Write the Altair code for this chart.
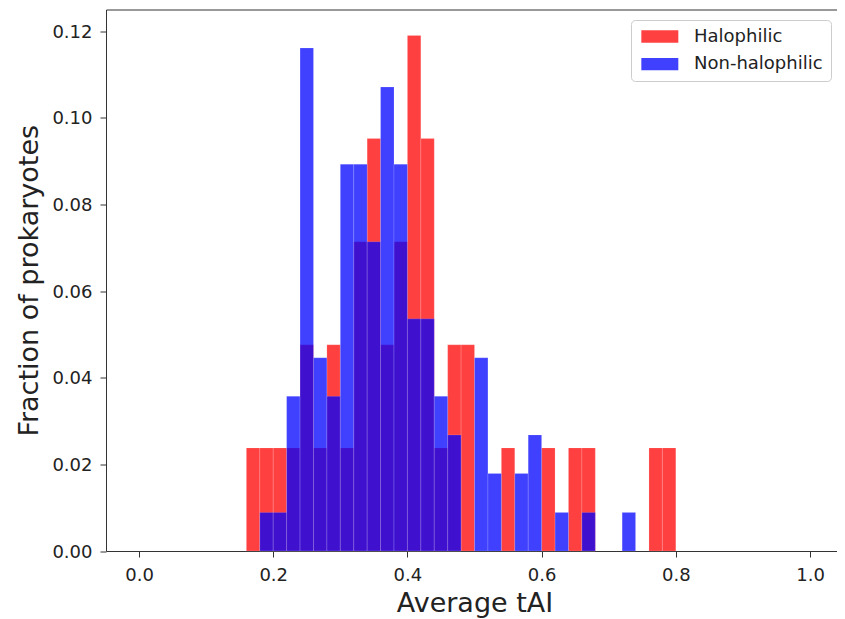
import altair as alt
import pandas as pd

# bin left edges (bin width 0.02) and fraction of prokaryotes
bin_width = 0.02
halo_bins = [0.16, 0.18, 0.20, 0.22, 0.24, 0.26, 0.28, 0.30, 0.32, 0.34, 0.36, 0.38,
             0.40, 0.42, 0.44, 0.46, 0.48, 0.54, 0.60, 0.64, 0.66, 0.76, 0.78]
halo_frac = [0.0238, 0.0238, 0.0238, 0.0238, 0.0476, 0.0238, 0.0476, 0.0238, 0.0714, 0.0952, 0.0476, 0.0714,
             0.1190, 0.0952, 0.0238, 0.0476, 0.0476, 0.0238, 0.0238, 0.0238, 0.0238, 0.0238, 0.0238]
non_bins = [0.18, 0.20, 0.22, 0.24, 0.26, 0.28, 0.30, 0.32, 0.34, 0.36, 0.38,
            0.40, 0.42, 0.44, 0.46, 0.50, 0.52, 0.56, 0.58, 0.62, 0.66, 0.72]
non_frac = [0.0089, 0.0089, 0.0357, 0.1161, 0.0446, 0.0357, 0.0893, 0.0893, 0.0714, 0.1071, 0.0893,
            0.0536, 0.0536, 0.0357, 0.0268, 0.0446, 0.0179, 0.0179, 0.0268, 0.0089, 0.0089, 0.0089]

groups = ["Halophilic", "Non-halophilic"]
colors = ["#ff0000", "#0000ff"]
x_ticks = [0.0, 0.2, 0.4, 0.6, 0.8, 1.0]
y_ticks = [0.00, 0.02, 0.04, 0.06, 0.08, 0.10, 0.12]

rows = []
for s, f in zip(halo_bins, halo_frac):
    rows.append({"group": groups[0], "start": s, "end": round(s + bin_width, 4), "frac": f, "base": 0.0})
for s, f in zip(non_bins, non_frac):
    rows.append({"group": groups[1], "start": s, "end": round(s + bin_width, 4), "frac": f, "base": 0.0})
df = pd.DataFrame(rows)

FONT = "DejaVu Sans"

x_enc = alt.X(
    "start:Q",
    scale=alt.Scale(domain=[-0.0492, 1.0402], nice=False, zero=False),
    axis=alt.Axis(values=x_ticks, format=".1f", labelPadding=9, titleY=60.5,
                  titleX=368.5, titleBaseline="alphabetic", title="Average tAI"),
)
y_enc = alt.Y(
    "frac:Q",
    stack=None,
    scale=alt.Scale(domain=[0, 0.125], nice=False, zero=True),
    axis=alt.Axis(values=y_ticks, format=".2f", labelPadding=8, labelOffset=1,
                  title="Fraction of prokaryotes", titleX=-69, titleY=270.75,
                  titleAngle=270, titleBaseline="alphabetic", titleAlign="center"),
)
color_enc = alt.Color(
    "group:N",
    scale=alt.Scale(domain=groups, range=colors),
    legend=alt.Legend(
        title=None, orient="none", legendX=525, legendY=10.5,
        symbolType="M-1,-1H5V1H-1Z", symbolSize=152, symbolOpacity=0.75,
        symbolStrokeWidth=0, labelFont=FONT, labelFontSize=18, labelColor="#222222",
        labelOffset=37.5, padding=7.5, rowPadding=9.7,
        fillColor="white", strokeColor="#cccccc", cornerRadius=4,
    ),
)

def layer(g):
    return alt.Chart(df).transform_filter(alt.datum.group == g).mark_rect(
        fillOpacity=0.75, stroke="white", strokeWidth=0.6, strokeOpacity=0.25
    ).encode(x=x_enc, x2="end:Q", y=y_enc, y2="base:Q", color=color_enc)

chart = alt.layer(layer(groups[0]), layer(groups[1])).properties(
    width=731, height=541.5,
    autosize=alt.AutoSizeParams(type="none"),
    padding={"left": 98, "top": 1.5, "right": 0, "bottom": 67},
).configure_view(
    stroke="#333333", strokeWidth=1
).configure_axis(
    grid=False, domain=False, tickColor="#333333", tickSize=6, tickWidth=1,
    labelFont=FONT, labelFontSize=18, labelColor="#222222",
    titleFont=FONT, titleFontSize=27, titleFontWeight="normal", titleColor="#222222",
)

chart.save("out.html", embed_options={"renderer": "svg", "actions": False})
